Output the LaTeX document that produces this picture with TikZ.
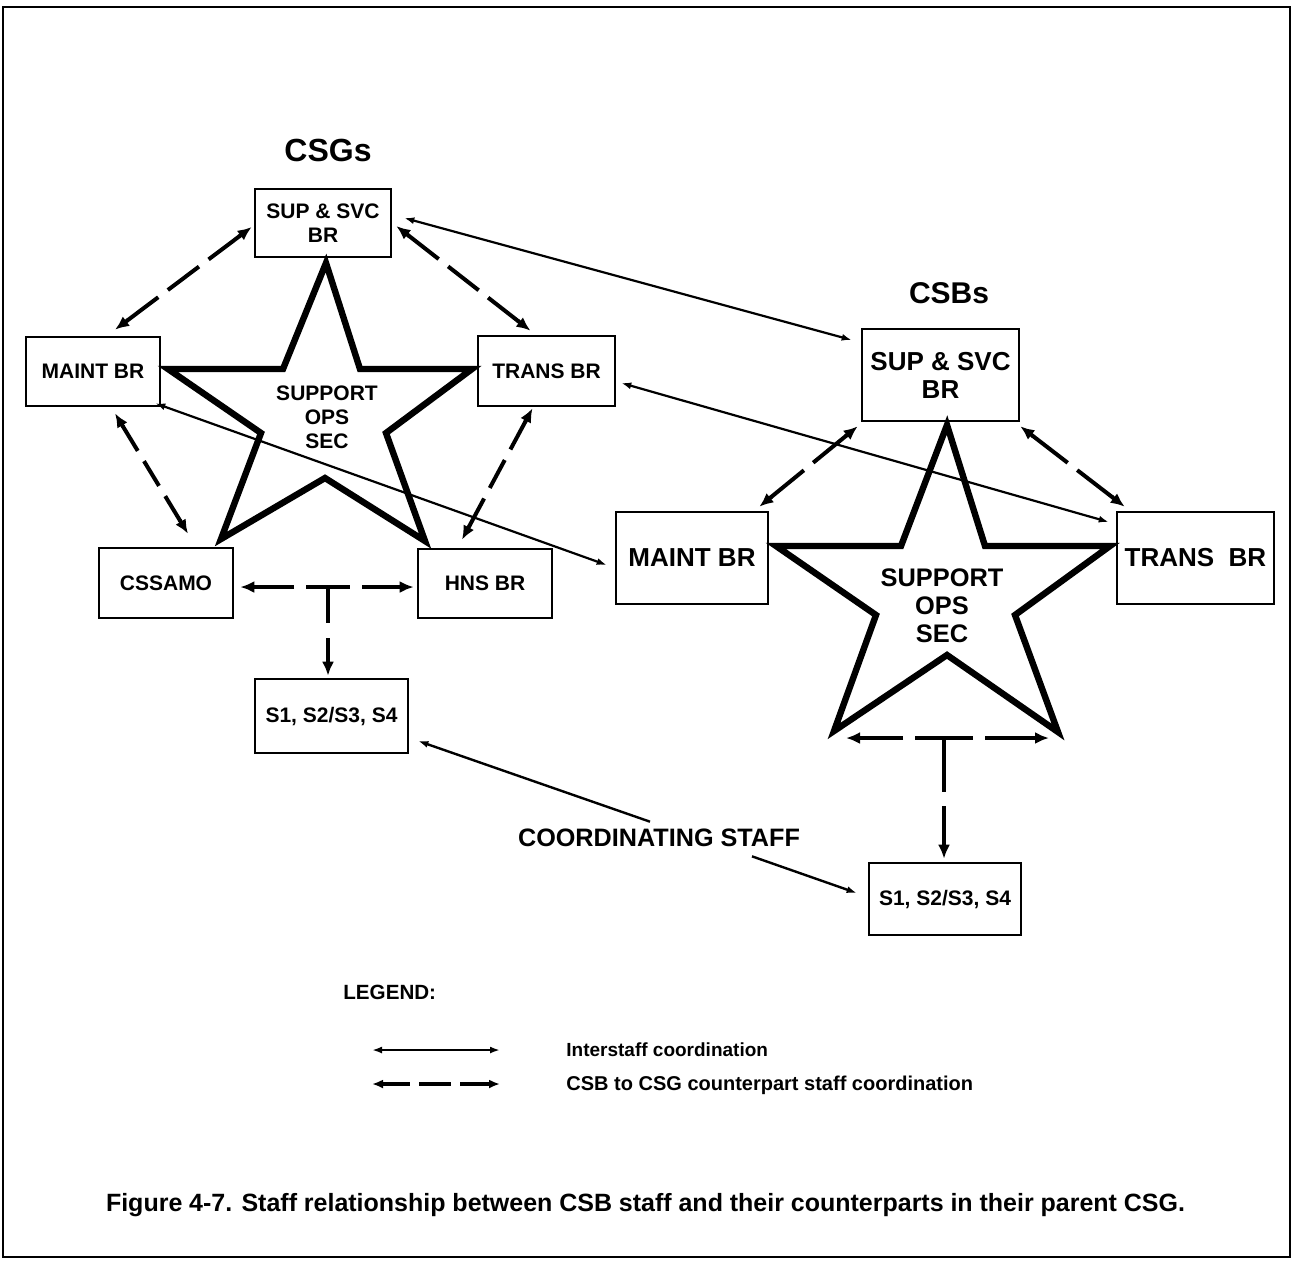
\documentclass[tikz,border=0pt]{standalone}
\usepackage{fontspec}
\setmainfont{Liberation Sans}
\usetikzlibrary{arrows.meta,calc}

\tikzset{
  box/.style={draw,line width=1.3pt,align=center,inner sep=0pt,
    font=\bfseries\fontsize{10.5}{12}\selectfont},
  bigbox/.style={box,font=\bfseries\fontsize{13}{14}\selectfont},
  lbl/.style={inner sep=0pt,font=\bfseries},
  thinarrow/.style={line width=1.1pt,{Latex[length=5pt,width=3.5pt]}-{Latex[length=5pt,width=3.5pt]}},
  oneway/.style={line width=1.2pt,-{Latex[length=5pt,width=3.5pt]}},
  dashhead/.style={line width=2pt,solid,-{Latex[length=7pt,width=6pt]}},
  tarrow/.style={line width=2pt,-{Latex[length=7pt,width=6pt]}},
  starline/.style={line width=3.2pt,line join=miter},
}

% dashed counterpart link: solid head at each end, dashes sized so that
% the body starts and ends with a dash (gap 6pt, dash about 17pt)
\newcommand\dashlink[2]{%
  \coordinate (dA) at (#1);
  \coordinate (dB) at (#2);
  \pgfpointdiff{\pgfpointanchor{dA}{center}}{\pgfpointanchor{dB}{center}}%
  \pgfgetlastxy{\dlkX}{\dlkY}%
  \pgfmathsetmacro\dlkLen{veclen(\dlkX,\dlkY)-15}%
  \pgfmathsetmacro\dlkN{max(1,round((\dlkLen+6)/23))}%
  \pgfmathsetmacro\dlkOn{(\dlkLen-(\dlkN-1)*6)/\dlkN}%
  \draw[line width=2pt,dash pattern=on \dlkOn pt off 6pt]
    ($(dA)!7.5pt!(dB)$) -- ($(dB)!7.5pt!(dA)$);
  \draw[dashhead] ($(dA)!8pt!(dB)$) -- (dA);
  \draw[dashhead] ($(dB)!8pt!(dA)$) -- (dB);
}

\begin{document}
\begin{tikzpicture}[x=0.5pt,y=-0.5pt]
\useasboundingbox (0,0) rectangle (1294,1260);
\draw[line width=1pt] (3,7) rectangle (1290,1257);

% ---------- CSG staff ----------
\node[lbl,font=\bfseries\fontsize{16}{18}\selectfont] (csgs) at (328,150) {CSGs};
\node[box,minimum width=68pt,minimum height=34pt] (supL) at (323,223) {SUP \& SVC\\BR};
\node[box,minimum width=67pt,minimum height=34.5pt] (maintL) at (93,371.5) {MAINT BR};
\node[box,minimum width=68.5pt,minimum height=35pt] (transL) at (546.5,371) {TRANS BR};
\node[box,minimum width=67pt,minimum height=35pt] (cssamo) at (166,583) {CSSAMO};
\node[box,minimum width=67pt,minimum height=34.5pt] (hns) at (485,583.5) {HNS BR};
\node[box,minimum width=76.5pt,minimum height=37pt] (s1L) at (331.5,716) {S1, S2/S3, S4};

\draw[starline] (326,263) coordinate (lT) -- (360,369) -- (472,369) coordinate (lR)
  -- (386,433) -- (425,541) coordinate (lBR) -- (325,478) -- (221,539) coordinate (lBL)
  -- (261,433) -- (168,369) coordinate (lL) -- (283,369) -- cycle;
\node[lbl,align=center,font=\bfseries\fontsize{10.5}{12}\selectfont] (opsL) at (327,417) {SUPPORT\\OPS\\SEC};

% ---------- CSB staff ----------
\node[lbl,font=\bfseries\fontsize{15}{18}\selectfont] (csbs) at (949,293) {CSBs};
\node[bigbox,minimum width=78.5pt,minimum height=46pt] (supR) at (940.5,375) {SUP \& SVC\\BR};
\node[bigbox,minimum width=76pt,minimum height=46pt] (maintR) at (692,558) {MAINT BR};
\node[bigbox,minimum width=78.5pt,minimum height=46pt] (transR) at (1195.5,558) {TRANS~ BR};
\node[box,minimum width=76pt,minimum height=36pt] (s1R) at (945,899) {S1, S2/S3, S4};

\draw[starline] (947,425) coordinate (rT) -- (985,546) -- (1110,546) coordinate (rR)
  -- (1015,615) -- (1058,732) coordinate (rBR) -- (947,655) -- (834,731) coordinate (rBL)
  -- (876,615) -- (776,546) coordinate (rL) -- (901,546) -- cycle;
\node[lbl,align=center,font=\bfseries\fontsize{12.7}{14}\selectfont] (opsR) at (942,606) {SUPPORT\\OPS\\SEC};

% ---------- interstaff coordination ----------
\draw[thinarrow] ($(supL.east)+(12,-5)$) -- ($(supR.west)+(-9,-35)$);
\draw[thinarrow] ($(maintL.south east)+(-6,-4)$) -- ($(maintR.west)+(-8,7)$);
\draw[thinarrow] ($(transL.east)+(5,12)$) -- ($(transR.west)+(-7,-36)$);

% ---------- counterpart coordination, CSG side ----------
\dashlink{$(supL.west)+(-2,4)$}{$(maintL.north)+(22,-6)$}
\dashlink{$(supL.east)+(4,3)$}{$(transL.north)+(-16,-4)$}
\dashlink{$(maintL.south)+(22,6)$}{$(cssamo.north)+(22,-13)$}
\dashlink{$(transL.south)+(-14,1)$}{$(hns.north)+(-23,-8)$}

\coordinate (tL) at (328,587);
\draw[tarrow,dash pattern=on 11pt off 6pt on 100pt off 6pt] (tL) -- ($(cssamo.east)+(6,4)$);
\draw[tarrow,dash pattern=on 11pt off 6pt on 100pt off 6pt] (tL) -- ($(hns.west)+(-3,3.5)$);
\draw[tarrow,dash pattern=on 18pt off 7.5pt on 100pt off 6pt] (tL) -- ($(s1L.north)+(-3.5,-2)$);

% ---------- counterpart coordination, CSB side ----------
\dashlink{$(supR.south west)+(-3,4)$}{$(maintR.north east)+(-10,-4)$}
\dashlink{$(supR.south east)+(0,4)$}{$(transR.north west)+(9,-4)$}

\coordinate (tR) at (944,738);
\draw[tarrow,dash pattern=on 14.5pt off 6pt on 100pt off 6pt] (tR) -- ($(rBL)+(12,7)$);
\draw[tarrow,dash pattern=on 14.5pt off 6pt on 100pt off 6pt] (tR) -- ($(rBR)+(-9,6)$);
\draw[tarrow,dash pattern=on 27pt off 7pt on 100pt off 6pt] (tR) -- ($(s1R.north)+(-1,-3)$);

% ---------- coordinating staff ----------
\node[lbl,font=\bfseries\fontsize{12.6}{14}\selectfont] (coord) at (659,838) {COORDINATING STAFF};
\draw[oneway] ($(coord.north)+(-9,-7)$) -- ($(s1L.east)+(9,25)$);
\draw[oneway] ($(coord.south)+(93,9)$) -- ($(s1R.west)+(-11,-6)$);

% ---------- legend ----------
\node[lbl,anchor=base west,font=\bfseries\fontsize{10.3}{12}\selectfont] (legend) at (343,999) {LEGEND:};
\coordinate (l1a) at (372,1050);
\coordinate (l1b) at (500,1050);
\draw[line width=1.2pt,{Latex[length=5pt,width=3.5pt]}-{Latex[length=5pt,width=3.5pt]}] (l1a) -- (l1b);
\coordinate (l2a) at (372,1084);
\coordinate (l2b) at (500,1084);
\draw[line width=1.6pt,dash pattern=on 13.5pt off 4.5pt on 16pt off 4.5pt on 20pt off 4pt]
  ($(l2a)!5.5pt!(l2b)$) -- ($(l2b)!5.5pt!(l2a)$);
\draw[line width=1.6pt,-{Latex[length=5.5pt,width=4.5pt]}] ($(l2a)!6pt!(l2b)$) -- (l2a);
\draw[line width=1.6pt,-{Latex[length=5.5pt,width=4.5pt]}] ($(l2b)!6pt!(l2a)$) -- (l2b);
\node[lbl,anchor=base west,font=\bfseries\fontsize{9.5}{11}\selectfont] (lg1) at (566,1056) {Interstaff coordination};
\node[lbl,anchor=base west,font=\bfseries\fontsize{10}{12}\selectfont] (lg2) at (566,1090) {CSB to CSG counterpart staff coordination};

% ---------- caption ----------
\node[lbl,anchor=base,font=\bfseries\fontsize{12.5}{14}\selectfont] (caption) at (645.5,1211)
  {\makebox[539.5pt][s]{Figure 4-7. Staff relationship between CSB staff and their counterparts in their parent CSG.}};
\end{tikzpicture}
\end{document}
